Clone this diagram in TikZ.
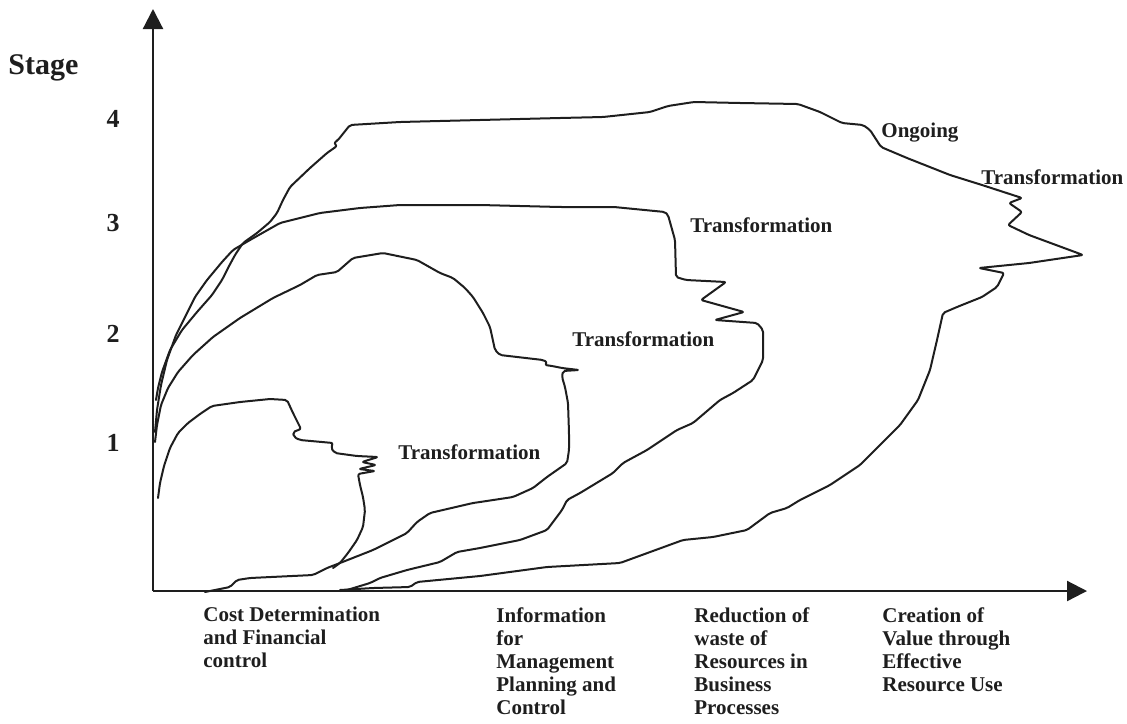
\documentclass[tikz,border=0pt]{standalone}
\usepackage{fontspec}
\setmainfont{Liberation Serif}
\usetikzlibrary{arrows.meta}
\definecolor{ink}{HTML}{1E1E1E}
\begin{document}
\begin{tikzpicture}[x=0.5pt,y=-0.5pt,
  axis/.style={ink,line width=1.1pt,-{Triangle[length=10pt,width=10pt]}},
  curve/.style={ink,line width=1pt,line join=round,line cap=round,rounded corners=1pt},
  lbl/.style={ink,font=\fontsize{10.5}{11.5}\selectfont\bfseries,inner sep=0pt},
  cat/.style={lbl,anchor=north west,align=left},
  tag/.style={lbl,anchor=base west},
  lvl/.style={ink,font=\fontsize{13}{15}\selectfont\bfseries,inner sep=0pt,anchor=base}]
\useasboundingbox (0,0) rectangle (1127,723);

% axes
\coordinate (O) at (153,591);
\coordinate (ytip) at (153,9);
\coordinate (xtip) at (1087,591);
\draw[axis] (O) -- (ytip);
\draw[axis] (O) -- (xtip);

% vertical axis title and stage numbers
\node[ink,font=\fontsize{15}{17}\selectfont\bfseries,inner sep=0pt,anchor=base west] (stage) at (8,74) {Stage};
\node[lvl] (s4) at (113,127) {4};
\node[lvl] (s3) at (113,231) {3};
\node[lvl] (s2) at (113,342) {2};
\node[lvl] (s1) at (113,451) {1};

% categories along the horizontal axis
\node[cat] (cost) at (203,607) {Cost Determination\\and Financial\\control};
\node[cat] (info) at (496,607) {Information\\for\\Management\\Planning and\\Control};
\node[cat] (waste) at (694,607) {Reduction of\\waste of\\Resources in\\Business\\Processes};
\node[cat] (value) at (882,607) {Creation of\\Value through\\Effective\\Resource Use};

% stage 1 loop
\draw[curve] plot coordinates {(158,498) (160,483) (164,466) (170,448) (178,433) (188,423)
  (200,414) (212,406) (240,402) (270,399) (287,400) (293,413) (301,429) (293,432) (294,437)
  (300,440) (333,443) (331,448) (335,453) (357,456) (378,457) (362,462) (376,465) (359,469)
  (375,471) (358,474) (360,485) (363,497) (365,510) (363,527) (357,540) (348,553) (340,563)
  (333,568)};

% stage 2 loop
\draw[curve] plot coordinates {(155,442) (157,425) (161,405) (168,388) (178,372) (193,355)
  (213,337) (240,318) (273,298) (300,285) (317,275) (337,272) (345,265) (353,258) (383,253)
  (417,260) (440,273) (453,278) (465,288) (473,297) (483,313) (490,327) (495,350) (500,355)
  (543,360) (547,362) (545,365) (552,366) (562,368) (579,370) (563,371) (562,377) (565,387)
  (568,403) (569,433) (569,450) (567,463) (557,470) (547,477) (533,488) (513,497) (480,502)
  (473,503) (430,513) (417,522) (407,533) (373,550) (340,563) (327,568) (313,575) (250,578)
  (237,580) (230,587) (205,592)};

% stage 3 loop
\draw[curve] plot coordinates {(155,432) (157,410) (161,385) (167,360) (176,335) (187,313)
  (195,297) (207,280) (222,262) (233,250) (250,240) (280,223) (320,213) (360,208) (400,205)
  (480,205) (560,207) (614,207) (665,212) (668,215) (675,240) (676,277) (686,280) (726,282)
  (701,300) (744,312) (715,320) (757,323) (763,330) (763,360) (753,380) (733,393) (720,400)
  (693,423) (677,430) (647,450) (623,463) (613,473) (580,493) (567,500) (562,510) (547,530)
  (520,540) (480,548) (457,552) (440,562) (407,570) (380,578) (370,583) (347,590) (340,591)};

% ongoing loop
\draw[curve] plot coordinates {(156,400) (158,388) (162,372) (170,350) (182,330) (197,312)
  (212,295) (222,280) (228,268) (235,255) (243,243) (257,233) (270,222) (277,213) (283,200)
  (290,187) (310,168) (327,153) (337,146) (334,143) (338,140) (350,125) (400,122) (480,120)
  (560,118) (603,117) (650,112) (668,106) (694,102) (740,103) (798,104) (820,112) (842,123)
  (863,125) (870,130) (881,147) (907,158) (950,175) (982,185) (1022,198) (1009,203)
  (1022,212) (1008,225) (1029,235) (1083,255) (1029,263) (979,268) (1004,273) (997,287)
  (982,297) (957,307) (943,313) (937,340) (930,370) (918,400) (900,425) (880,445) (860,465)
  (830,485) (800,500) (787,508) (770,513) (747,530) (713,537) (683,540) (620,563) (547,567)
  (480,576) (417,582) (410,587) (373,588) (340,590)};

% loop labels
\node[tag] (t1) at (398,459) {Transformation};
\node[tag] (t2) at (572,346) {Transformation};
\node[tag] (t3) at (690,232) {Transformation};
\node[tag] (t4) at (981,184) {Transformation};
\node[tag] (ongoing) at (881,137) {Ongoing};
\end{tikzpicture}
\end{document}
